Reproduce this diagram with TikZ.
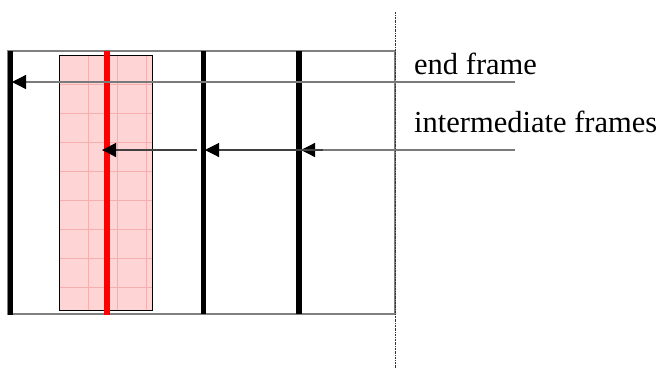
\documentclass[tikz,border=0pt]{standalone}
\usepackage{fontspec}
\setmainfont{Liberation Serif}
\usetikzlibrary{arrows.meta}
\definecolor{pinkfill}{HTML}{FFD4D4}
\definecolor{gridred}{HTML}{F6AFAF}
\definecolor{outline}{HTML}{808080}
\definecolor{arrgray}{HTML}{7A7A7A}
\definecolor{arrdark}{HTML}{404040}
\begin{document}
\begin{tikzpicture}[x=1pt,y=-1pt,
  frameline/.style={line width=5.5pt},
  redframe/.style={line width=5.5pt, red},
  outerbox/.style={draw=outline, line width=1.5pt},
  tiphead/.style={-{Triangle[length=14pt,width=14pt,color=black]}},
  arrA/.style={tiphead, draw=arrgray, line width=1.3pt},
  arrB/.style={tiphead, draw=arrdark, line width=1.1pt},
  lbl/.style={inner sep=0pt, anchor=base west, font=\fontsize{30.5}{36}\selectfont},
  gridline/.style={draw=gridred, line width=0.6pt},
  axisline/.style={draw=black!80, line width=0.9pt, dash pattern=on 2pt off 1pt on 0.6pt off 1pt}]
\useasboundingbox (0,0) rectangle (672,368);
% shaded pink region with grid
\fill[pinkfill] (59,55) rectangle (152,310);
\foreach \x in {88,117,146} \draw[gridline] (\x,55) -- (\x,310);
\foreach \y in {84,113,142,171,200,229,258,287} \draw[gridline] (59,\y) -- (152,\y);
\draw[black, line width=0.9pt] (59,55) rectangle (152,310);
% outer box
\draw[outerbox] (8,51) rectangle (395,314);
% symmetry / dotted line
\draw[axisline] (395,12) -- (395,368);
% frames
\draw[frameline] (10.5,51) -- (10.5,315);
\draw[redframe] (107,51) -- (107,315);
\draw[frameline] (203.5,51) -- (203.5,314);
\draw[frameline] (299,51) -- (299,314);
% coordinates for arrows
\coordinate (endsrc) at (515,82);
\coordinate (endtip) at (12,82);
\coordinate (intsrc) at (515,150);
\coordinate (f3tip) at (301,150);
\coordinate (f3src) at (323,150);
\coordinate (f2tip) at (205,150);
\coordinate (f2src) at (197,150);
\coordinate (f1tip) at (102,150);
% arrows
\draw[arrA] (endsrc) -- (endtip);
\draw[arrA] (intsrc) -- (f3tip);
\draw[arrB] (f3src) -- (f2tip);
\draw[arrB] (f2src) -- (f1tip);
% labels
\node[lbl] (endlbl) at (414,74) {end frame};
\node[lbl] (intlbl) at (414,132) {intermediate frames};
\end{tikzpicture}
\end{document}
